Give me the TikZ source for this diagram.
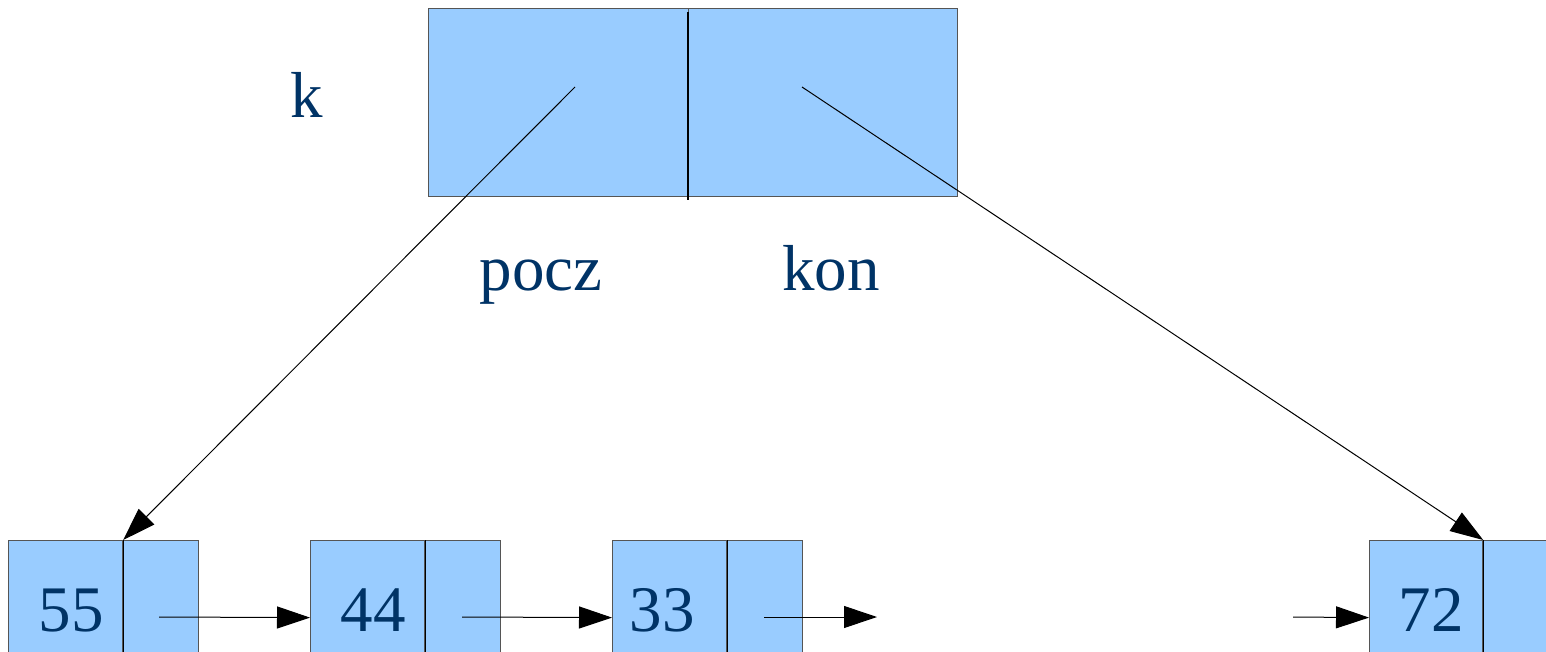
\documentclass[tikz,border=0pt]{standalone}
\usepackage{fontspec}
\setmainfont{Liberation Serif}
\usetikzlibrary{arrows.meta}
\definecolor{cellblue}{HTML}{99CCFF}
\definecolor{txtblue}{HTML}{003366}
\definecolor{edgegray}{HTML}{555555}
\begin{document}
\begin{tikzpicture}[x=0.5pt,y=-0.5pt,
  cell/.style={draw=edgegray,fill=cellblue,line width=0.6pt,inner sep=0pt,anchor=north west,minimum height=77pt},
  wide/.style={cell,minimum width=57pt},
  narrow/.style={cell,minimum width=37.5pt},
  divider/.style={draw=black,line width=0.6pt},
  lbl/.style={text=txtblue,font=\fontsize{32.5}{39}\selectfont,inner sep=0pt,anchor=base},
  ptr/.style={draw=black,line width=0.5pt,-{Triangle[length=16.5pt,width=11pt]}}]
\useasboundingbox (0,0) rectangle (1546,652);
\clip (0,0) rectangle (1546,652);
% top record
\node[cell,minimum width=130pt,minimum height=94pt] (tl) at (428,8) {};
\node[cell,minimum width=134.5pt,minimum height=94pt] (tr) at (688,8) {};
\coordinate (dtop) at (688,12);
\coordinate (dbot) at (688,200);
\draw[divider] (dtop) -- (dbot);
% list nodes
\node[wide] (a55) at (8,540) {};
\node[narrow] (b55) at (a55.north east) {};
\node[wide] (a44) at (310,540) {};
\node[narrow] (b44) at (a44.north east) {};
\node[wide] (a33) at (612,540) {};
\node[narrow] (b33) at (a33.north east) {};
\node[wide,minimum width=56.5pt] (a72) at (1369,540) {};
\node[narrow] (b72) at (a72.north east) {};
\foreach \n in {a55,a44,a33,a72}{\draw[divider] (\n.north east) -- (\n.south east);}
% labels
\node[lbl] (l55) at (71,631) {55};
\node[lbl] (l44) at (373,631) {44};
\node[lbl] (l33) at (662,631) {33};
\node[lbl] (l72) at (1431,631) {72};
\node[lbl] (lk) at (307,118) {k};
\node[lbl] (lpocz) at (541,290) {pocz};
\node[lbl] (lkon) at (831,290) {kon};
% pointers
\coordinate (ps) at (575,87);
\coordinate (ks) at (802,87);
\draw[ptr] (ps) -- (a55.north east);
\draw[ptr] (ks) -- (a72.north east);
\coordinate (s55) at (159,617);
\coordinate (s44) at (462,617);
\coordinate (s33) at (764,617);
\coordinate (e33) at (877,617);
\coordinate (s72) at (1293,617);
\draw[ptr] (s55) -- (a44.west);
\draw[ptr] (s44) -- (a33.west);
\draw[ptr] (s33) -- (e33);
\draw[ptr] (s72) -- (a72.west);
\end{tikzpicture}
\end{document}
